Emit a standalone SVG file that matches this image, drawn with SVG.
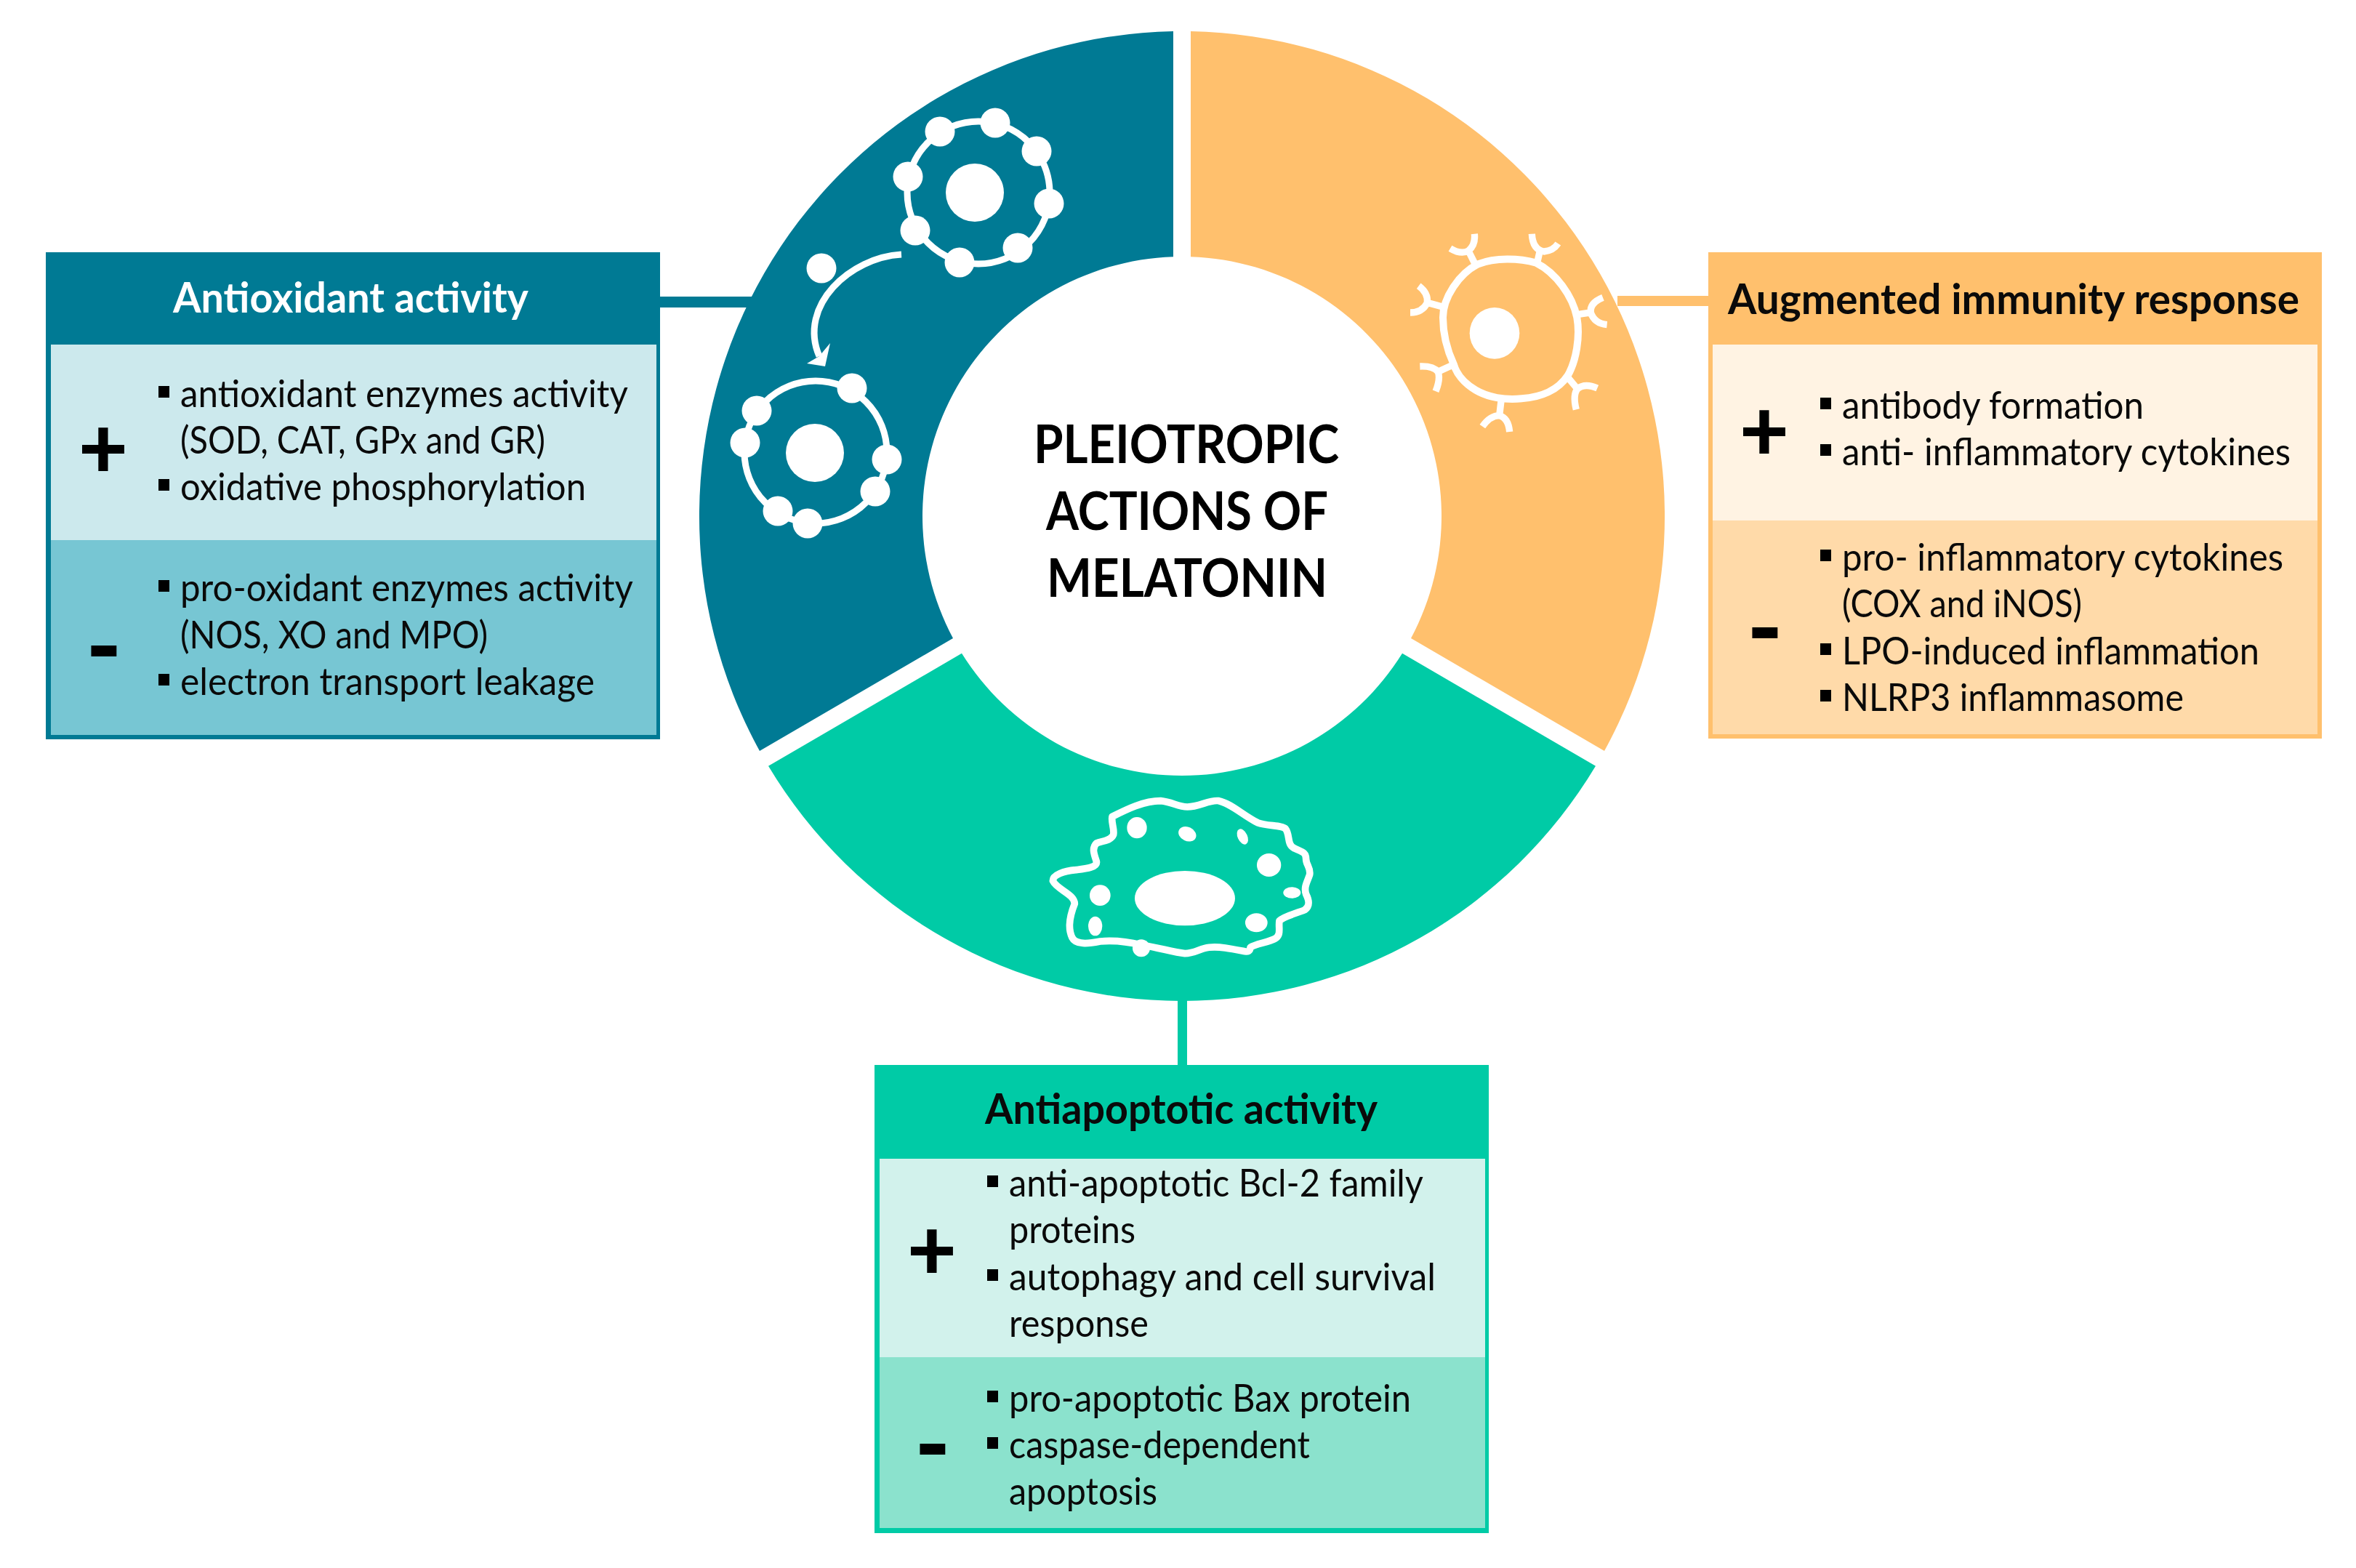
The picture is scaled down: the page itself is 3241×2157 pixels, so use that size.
<svg xmlns="http://www.w3.org/2000/svg" width="3241" height="2157" viewBox="0 0 3241 2157">
<style>
text{font-family:"Lato","Carlito","Liberation Sans",sans-serif;fill:#0a0a0a}
.t{font-size:53px}
.h{font-size:58px;font-weight:700}
.w{fill:#fff}
.c{font-size:73px;font-weight:700;text-anchor:middle;fill:#000}
.pm{font-size:118px;font-weight:900;text-anchor:middle;fill:#000}
.mi{font-size:132px;font-weight:900;text-anchor:middle;fill:#000}
.b{fill:#000}
.ic{fill:none;stroke:#fff;stroke-linecap:butt;stroke-linejoin:round}
.f{fill:#fff}
</style>
<defs>
<rect id="bu" width="15" height="16" class="b"/>
</defs>
<rect width="3241" height="2157" fill="#fff"/>

<g id="connectors">
<rect x="905" y="408" width="135" height="15" fill="#007a94"/>
<rect x="2225" y="407" width="128" height="14" fill="#ffc06d"/>
<rect x="1620" y="1370" width="13" height="98" fill="#00cba6"/>
</g>

<g id="ring">
<g id="sector-antioxidant">
<path d="M1614 43.1A664 667 0 0 0 1045 1033L1311 878A357 357 0 0 1 1614 353.2Z" fill="#007a94"/>
<g class="cell">
<circle class="ic" cx="1346" cy="265" r="98" stroke-width="9"/>
<circle class="f" cx="1341" cy="265" r="40"/>
<circle class="f" cx="1293" cy="181" r="20.5"/><circle class="f" cx="1369" cy="169" r="20.5"/><circle class="f" cx="1426" cy="208" r="20.5"/><circle class="f" cx="1443" cy="280" r="20.5"/><circle class="f" cx="1400" cy="341" r="20.5"/><circle class="f" cx="1320" cy="361" r="20.5"/><circle class="f" cx="1259" cy="317" r="20.5"/><circle class="f" cx="1249" cy="243" r="20.5"/>
<circle class="f" cx="1130" cy="369" r="20.5"/>
<path class="ic" d="M1240 350C1170 354 1097 420 1127 490" stroke-width="9"/>
<path class="f" d="M1142 472L1135 504L1110 500L1127 490Z"/>
<circle class="ic" cx="1122" cy="622" r="98" stroke-width="9"/>
<circle class="f" cx="1121" cy="623" r="40"/>
<circle class="f" cx="1172" cy="534" r="20.5"/><circle class="f" cx="1041" cy="565" r="20.5"/><circle class="f" cx="1025" cy="609" r="20.5"/><circle class="f" cx="1220" cy="632" r="20.5"/><circle class="f" cx="1204" cy="676" r="20.5"/><circle class="f" cx="1070" cy="703" r="20.5"/><circle class="f" cx="1111" cy="720" r="20.5"/>
</g>
</g>
<g id="sector-immunity">
<path d="M1638 43.1A664 667 0 0 1 2207 1033L1941 878A357 357 0 0 0 1638 353.2Z" fill="#ffc06d"/>
<g transform="translate(1900 280) scale(.3333)">
<path class="ic" stroke-width="30" d="M255 470C255 390 320 290 400 250C470 222 570 225 640 245C720 285 790 380 808 470C822 550 805 650 770 710C730 770 660 800 580 805C510 812 440 800 390 770C340 740 310 700 300 665C270 600 255 540 255 470Z"/>
<ellipse class="f" cx="468" cy="535" rx="103" ry="106"/>
<g class="ic" stroke-width="28">
<path d="M385 245L360 195M285 185Q330 212 360 195Q390 170 385 125"/>
<path d="M645 240L655 195M622 125Q625 190 672 198Q710 195 730 165"/>
<path d="M250 425L195 410M155 340Q195 370 190 410Q170 450 120 450"/>
<path d="M810 458L865 450M915 388Q860 410 865 450Q880 495 932 500"/>
<path d="M298 665L232 695M160 672Q215 670 235 695Q245 725 225 775"/>
<path d="M768 715L810 765M892 762Q840 740 810 765Q790 790 805 850"/>
<path d="M495 815L488 875M418 920Q450 875 488 875Q525 885 530 942"/>
</g>
</g>
</g>
<g id="sector-antiapoptotic">
<path d="M1057 1053.8A664 667 0 0 0 2195 1053.8L1929 898.8A357 357 0 0 1 1323 898.8Z" fill="#00cba6"/>
<g transform="translate(1400 1060) scale(.3333)">
<path class="ic" stroke-width="29" d="M390 190C450 160 520 125 590 125C640 130 660 150 700 150C750 150 790 120 830 125C880 135 930 185 990 215C1030 230 1090 225 1105 240C1125 265 1110 305 1140 320C1170 335 1190 335 1190 365C1190 390 1210 400 1205 430C1195 460 1180 480 1190 510C1205 540 1205 560 1185 575C1150 590 1100 600 1080 620C1075 650 1090 680 1060 695C1030 710 980 715 960 730C960 745 950 750 930 745C880 735 830 725 790 730C750 735 730 755 690 755C640 750 580 730 510 720C450 705 390 700 340 705C290 715 240 720 225 690C205 650 215 600 235 550C235 510 160 490 145 455C145 430 190 415 240 410C280 405 330 400 325 375C315 345 305 320 325 300C350 290 385 290 395 265C400 240 385 215 390 190Z"/>
<circle class="f" cx="510" cy="733" r="36"/>
<ellipse class="f" cx="690" cy="527" rx="207" ry="113"/>
<ellipse class="f" cx="492" cy="236" rx="41" ry="44"/>
<ellipse class="f" cx="700" cy="262" rx="38" ry="29" transform="rotate(25 700 262)"/>
<ellipse class="f" cx="928" cy="273" rx="20" ry="34" transform="rotate(-25 928 273)"/>
<ellipse class="f" cx="1037" cy="390" rx="50" ry="48"/>
<ellipse class="f" cx="1132" cy="504" rx="36" ry="23"/>
<ellipse class="f" cx="985" cy="628" rx="46" ry="39"/>
<ellipse class="f" cx="340" cy="515" rx="43" ry="43"/>
<ellipse class="f" cx="320" cy="642" rx="29" ry="40"/>
</g>
</g>
<g id="center-title">
<text class="c" x="1632" y="637" textLength="420" lengthAdjust="spacingAndGlyphs">PLEIOTROPIC</text>
<text class="c" x="1633" y="729" textLength="388" lengthAdjust="spacingAndGlyphs">ACTIONS OF</text>
<text class="c" x="1633" y="821" textLength="386" lengthAdjust="spacingAndGlyphs">MELATONIN</text>
</g>
</g>

<g id="box-antioxidant">
<rect x="63" y="347" width="845" height="670" fill="#007a94"/>
<rect x="70" y="474" width="833" height="269" fill="#cce9ed"/>
<rect x="70" y="743" width="833" height="268" fill="#77c6d3"/>
<text class="h w" x="238" y="430" textLength="489" lengthAdjust="spacingAndGlyphs">Antioxidant activity</text>
<text class="pm" x="142" y="658">+</text>
<text class="mi" x="143" y="935">-</text>
<use href="#bu" x="218" y="531"/><use href="#bu" x="218" y="659"/><use href="#bu" x="218" y="798"/><use href="#bu" x="218" y="927"/>
<text class="t" x="248" y="560" textLength="616" lengthAdjust="spacingAndGlyphs">antioxidant enzymes activity</text>
<text class="t" x="248" y="624" textLength="502" lengthAdjust="spacingAndGlyphs">(SOD, CAT, GPx and GR)</text>
<text class="t" x="248" y="688" textLength="558" lengthAdjust="spacingAndGlyphs">oxidative phosphorylation</text>
<text class="t" x="248" y="827" textLength="623" lengthAdjust="spacingAndGlyphs">pro-oxidant enzymes activity</text>
<text class="t" x="248" y="892" textLength="423" lengthAdjust="spacingAndGlyphs">(NOS, XO and MPO)</text>
<text class="t" x="248" y="956" textLength="570" lengthAdjust="spacingAndGlyphs">electron transport leakage</text>
</g>

<g id="box-immunity">
<rect x="2350" y="347" width="844" height="669" fill="#ffc06d"/>
<rect x="2356" y="474" width="832" height="242" fill="#fff3e3"/>
<rect x="2356" y="716" width="832" height="294" fill="#ffdaa9"/>
<text class="h" x="2377" y="432" textLength="786" lengthAdjust="spacingAndGlyphs">Augmented immunity response</text>
<text class="pm" x="2427" y="634">+</text>
<text class="mi" x="2428" y="910">-</text>
<use href="#bu" x="2504" y="547"/><use href="#bu" x="2504" y="611"/><use href="#bu" x="2504" y="756"/><use href="#bu" x="2504" y="885"/><use href="#bu" x="2504" y="949"/>
<text class="t" x="2534" y="576" textLength="415" lengthAdjust="spacingAndGlyphs">antibody formation</text>
<text class="t" x="2534" y="640" textLength="617" lengthAdjust="spacingAndGlyphs">anti- inflammatory cytokines</text>
<text class="t" x="2534" y="785" textLength="607" lengthAdjust="spacingAndGlyphs">pro- inflammatory cytokines</text>
<text class="t" x="2534" y="849" textLength="330" lengthAdjust="spacingAndGlyphs">(COX and iNOS)</text>
<text class="t" x="2534" y="914" textLength="574" lengthAdjust="spacingAndGlyphs">LPO-induced inflammation</text>
<text class="t" x="2534" y="978" textLength="470" lengthAdjust="spacingAndGlyphs">NLRP3 inflammasome</text>
</g>

<g id="box-antiapoptotic">
<rect x="1203" y="1465" width="845" height="644" fill="#00cba6"/>
<rect x="1210" y="1594" width="833" height="273" fill="#d2f2ec"/>
<rect x="1210" y="1867" width="833" height="235" fill="#8be2cd"/>
<text class="h" x="1355" y="1546" textLength="540" lengthAdjust="spacingAndGlyphs">Antiapoptotic activity</text>
<text class="pm" x="1282" y="1761">+</text>
<text class="mi" x="1283" y="2033">-</text>
<use href="#bu" x="1358" y="1617"/><use href="#bu" x="1358" y="1746"/><use href="#bu" x="1358" y="1913"/><use href="#bu" x="1358" y="1977"/>
<text class="t" x="1388" y="1646" textLength="570" lengthAdjust="spacingAndGlyphs">anti-apoptotic Bcl-2 family</text>
<text class="t" x="1388" y="1710" textLength="174" lengthAdjust="spacingAndGlyphs">proteins</text>
<text class="t" x="1388" y="1775" textLength="587" lengthAdjust="spacingAndGlyphs">autophagy and cell survival</text>
<text class="t" x="1388" y="1839" textLength="192" lengthAdjust="spacingAndGlyphs">response</text>
<text class="t" x="1388" y="1942" textLength="553" lengthAdjust="spacingAndGlyphs">pro-apoptotic  Bax protein</text>
<text class="t" x="1388" y="2006" textLength="414" lengthAdjust="spacingAndGlyphs">caspase-dependent</text>
<text class="t" x="1388" y="2070" textLength="204" lengthAdjust="spacingAndGlyphs">apoptosis</text>
</g>
</svg>
